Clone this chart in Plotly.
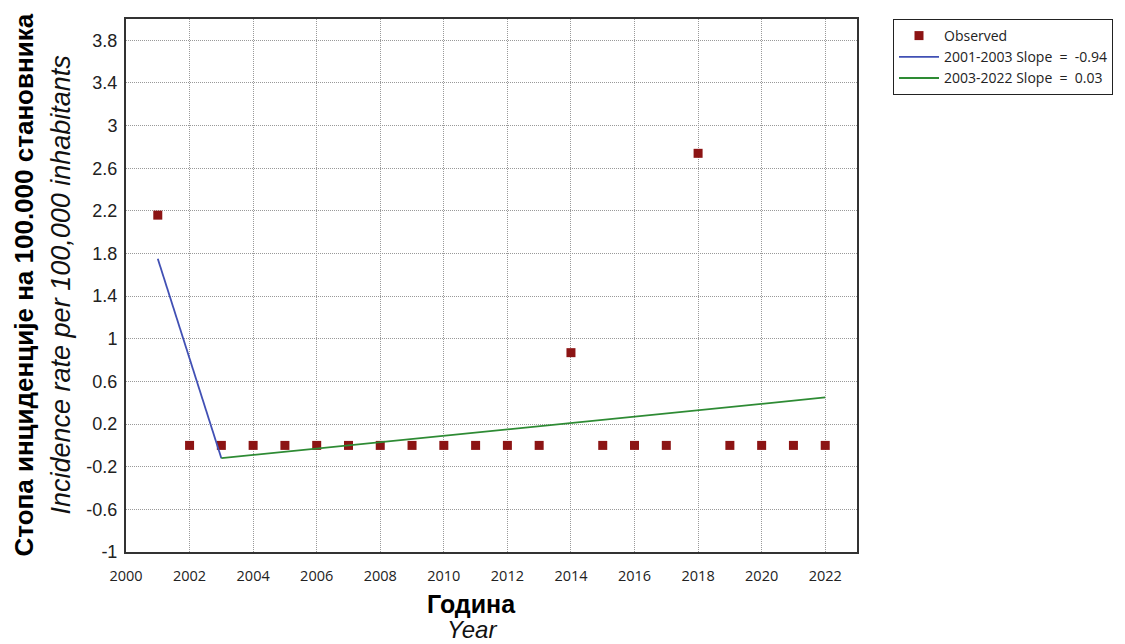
import plotly.graph_objects as go

years = list(range(2001, 2023))
observed = [2.16, 0, 0, 0, 0, 0, 0, 0, 0, 0, 0, 0, 0, 0.87, 0, 0, 0, 2.74, 0, 0, 0, 0]
seg1_x = [2001, 2003]
seg1_y = [1.75, -0.12]
seg2_x = [2003, 2022]
seg2_y = [-0.12, 0.45]
y_ticks = [-1, -0.6, -0.2, 0.2, 0.6, 1, 1.4, 1.8, 2.2, 2.6, 3, 3.4, 3.8]
y_ticklabels = ["-1", "-0.6", "-0.2", "0.2", "0.6", "1", "1.4", "1.8", "2.2", "2.6", "3", "3.4", "3.8"]
x_ticks = list(range(2000, 2023, 2))

# page has an 8px body margin; plot area in page pixels: x 126..857, y 17..552
PL, PR, PT, PB = 126, 857, 17, 552
PW, PH = PR - PL, PB - PT


def px(x):
    return (x - PL) / PW


def py(y):
    return (PB - y) / PH


fig = go.Figure()
fig.add_trace(go.Scatter(x=years, y=observed, mode="markers", name="Observed",
                         marker=dict(symbol="square", size=9, color="#8c1414")))
fig.add_trace(go.Scatter(x=seg1_x, y=seg1_y, mode="lines", name="2001-2003 Slope  =  -0.94",
                         line=dict(color="#4150b4", width=1.8)))
fig.add_trace(go.Scatter(x=seg2_x, y=seg2_y, mode="lines", name="2003-2022 Slope  =  0.03",
                         line=dict(color="#2e8b34", width=1.8)))

fig.update_layout(
    width=1117, height=636,
    margin=dict(l=118, r=268, t=9, b=92),
    paper_bgcolor="white", plot_bgcolor="white",
    showlegend=True,
    legend=dict(x=px(893), y=1.0, xanchor="left", yanchor="top",
                bordercolor="#222", borderwidth=1, bgcolor="white",
                font=dict(family="Open Sans", size=14, color="#222"),
                tracegroupgap=0, itemwidth=40),
    xaxis=dict(range=[2000, 2023], tickvals=x_ticks, ticktext=[str(v) for v in x_ticks],
               showgrid=True, gridcolor="#999999", griddash="1px,1px", gridwidth=1,
               showline=True, linecolor="#333", linewidth=2, mirror=True,
               zeroline=False, ticks="", ticklen=0, ticklabelstandoff=10,
               tickfont=dict(family="Open Sans", size=14.5, color="#222")),
    yaxis=dict(range=[-1, 4.0], tickvals=y_ticks, ticktext=y_ticklabels,
               showgrid=True, gridcolor="#999999", griddash="1px,1px", gridwidth=1,
               showline=True, linecolor="#333", linewidth=2, mirror=True,
               zeroline=False, ticks="", ticklen=0, ticklabelstandoff=3,
               tickfont=dict(family="Liberation Sans", size=18, color="#222")),
    annotations=[
        dict(text="<b>Стопа инциденције на 100.000 становника</b>", xref="paper", yref="paper",
             x=px(23), y=0.5, xanchor="center", yanchor="middle", textangle=-90,
             showarrow=False, font=dict(family="Liberation Sans", size=26, color="black")),
        dict(text="<i>Incidence rate per 100,000 inhabitants</i>", xref="paper", yref="paper",
             x=px(60), y=0.5, xanchor="center", yanchor="middle", textangle=-90,
             showarrow=False, font=dict(family="Liberation Sans", size=27, color="#111")),
        dict(text="<b>Година</b>", xref="paper", yref="paper",
             x=px(471), y=py(604), xanchor="center", yanchor="middle",
             showarrow=False, font=dict(family="Liberation Sans", size=25, color="black")),
        dict(text="<i>Year</i>", xref="paper", yref="paper",
             x=px(472), y=py(630), xanchor="center", yanchor="middle",
             showarrow=False, font=dict(family="Liberation Sans", size=24, color="#111")),
    ],
)

fig.write_html("out.html")
